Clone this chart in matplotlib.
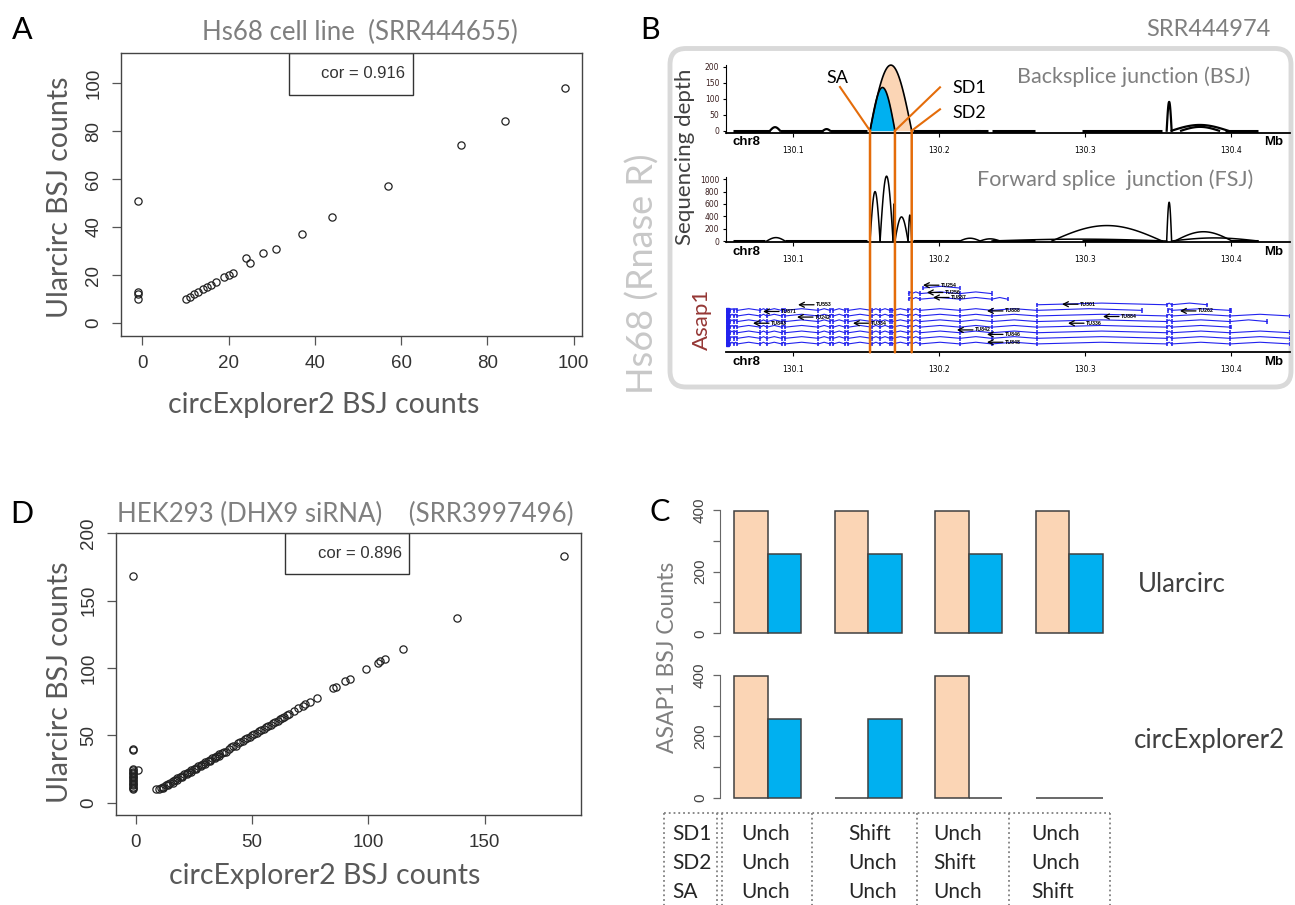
import numpy as np
import matplotlib
matplotlib.use("Agg")
import matplotlib.pyplot as plt
from matplotlib.patches import Rectangle, FancyBboxPatch, ConnectionPatch

# -----------------------------
# 1. Data

# A: Hs68 cell line scatter
a_x = [-1, -1, -1, -1, 10, 11, 12, 13, 14, 15, 16, 17, 19, 20, 21, 24, 25, 28, 31, 37, 44, 57, 74, 84, 98]
a_y = [51, 13, 12, 10, 10, 11, 12, 13, 14, 15, 16, 17, 19, 20, 21, 27, 25, 29, 31, 37, 44, 57, 74, 84, 98]
a_cor = 0.916

# D: HEK293 scatter
d_x = [-1, -1, -1, -1, -1, -1, -1, -1, -1, -1, -1, -1, -1, -1, -1, -1, -1, -1, -1, 1,
       9, 10, 11, 12, 12, 13, 14, 14, 15, 16, 16, 17, 18, 18, 19, 20, 20, 21, 22, 22,
       23, 24, 24, 25, 26, 26, 27, 28, 28, 29, 30, 30, 31, 32, 32, 33, 34, 34, 35, 36,
       36, 37, 38, 39, 40, 41, 42, 43, 44, 45, 46, 47, 48, 49, 50, 51, 52, 53, 54, 55,
       56, 57, 58, 59, 60, 61, 62, 63, 64, 65, 66, 68, 70, 72, 73, 75, 78, 85, 86, 90,
       92, 99, 104, 105, 107, 115, 138, 184]
d_y = [168, 40, 39, 25, 24, 23, 22, 21, 20, 19, 18, 17, 16, 15, 14, 13, 12, 11, 10, 24,
       10, 10, 11, 11, 12, 13, 13, 14, 15, 15, 16, 17, 17, 18, 19, 19, 20, 21, 21, 22,
       23, 23, 24, 25, 25, 26, 27, 27, 28, 29, 29, 30, 31, 31, 32, 33, 33, 34, 35, 35,
       36, 37, 38, 38, 40, 41, 42, 42, 44, 45, 46, 47, 48, 49, 50, 51, 52, 53, 54, 55,
       56, 57, 58, 59, 60, 61, 62, 63, 64, 65, 66, 68, 70, 72, 73, 75, 78, 85, 86, 90,
       92, 99, 104, 105, 107, 114, 137, 183]
d_cor = 0.896

# B: chr8 region (Mb)
mb_lo, mb_hi = 130.0536, 130.4407
mb_ticks = [130.1, 130.2, 130.3, 130.4]
sa_pos, sd1_pos, sd2_pos = 130.1526, 130.1697, 130.1812

# backsplice arcs SA->SD2 and SA->SD1
bsj_start = [sa_pos, sa_pos]
bsj_end = [sd2_pos, sd1_pos]
bsj_height = [205, 135]
# other small BSJ signals
bsj_small_start = [130.0840, 130.1204, 130.3561, 130.3595, 130.3660]
bsj_small_end = [130.0909, 130.1252, 130.3595, 130.3982, 130.3920]
bsj_small_height = [11, 5, 90, 18, 12]
bsj_base_start = [130.0586, 130.0909, 130.1252, 130.1821, 130.2246, 130.2363, 130.2980, 130.3961]
bsj_base_end = [130.0840, 130.1204, 130.1505, 130.2281, 130.2335, 130.2658, 130.3529, 130.4187]

# forward splice arcs
fsj_start = [130.1526, 130.1595, 130.1684, 130.1697, 130.1787, 130.0818, 130.2143, 130.2281,
             130.2774, 130.2363, 130.3561, 130.3618, 130.3595]
fsj_end = [130.1595, 130.1684, 130.1697, 130.1787, 130.1812, 130.0943, 130.2281, 130.2418,
           130.3529, 130.3561, 130.3595, 130.4009, 130.4187]
fsj_height = [800, 1050, 600, 390, 420, 55, 45, 35, 250, 30, 627, 150, 50]
fsj_base_start = [130.0586, 130.0943, 130.1821, 130.2363, 130.2980, 130.3995]
fsj_base_end = [130.0806, 130.1504, 130.2143, 130.2658, 130.3529, 130.4187]

# Asap1 transcripts
tx_start = [130.189, 130.179, 130.179, 130.267, 130.054, 130.357, 130.054, 130.054, 130.054, 130.054, 130.054, 130.054]
tx_end = [130.214, 130.236, 130.247, 130.384, 130.339, 130.400, 130.4407, 130.425, 130.400, 130.4407, 130.4407, 130.4407]
tx_row = [0, 1, 2, 3, 4, 4, 5, 6, 7, 8, 9, 10]
exon_pos = [130.0566, 130.0593, 130.0616, 130.0772, 130.0818, 130.0920, 130.0943, 130.1171,
            130.1252, 130.1274, 130.1355, 130.1377, 130.1538, 130.1595, 130.1663, 130.1679,
            130.1789, 130.1812, 130.1869, 130.2143, 130.2361, 130.2669, 130.3561, 130.3595, 130.3995]
arrow_pos = [130.1889, 130.1916, 130.1958, 130.1032, 130.0792, 130.1025, 130.0723, 130.1409,
             130.2122, 130.2843, 130.2328, 130.3124, 130.2884, 130.3652, 130.2328, 130.2328]
arrow_row = [-0.5, 0.8, 1.7, 3.0, 4.2, 5.2, 6.3, 6.3, 7.5, 2.9, 4.1, 5.1, 6.3, 4.1, 8.3, 9.7]
arrow_label = ["TU254", "TU256", "TU887", "TU553", "TU871", "TU242", "TU843", "TU334",
               "TU842", "TU301", "TU888", "TU884", "TU336", "TU262", "TU846", "TU848"]

# C: ASAP1 BSJ counts per junction scenario
ular_sa_sd2 = [398, 398, 398, 398]
ular_sa_sd1 = [256, 256, 256, 256]
ce2_sa_sd2 = [398, 0, 398, 0]
ce2_sa_sd1 = [256, 256, 0, 0]
row_names = ["SD1", "SD2", "SA"]
scenario_states = [["Unch", "Unch", "Unch"],
                   ["Shift", "Unch", "Unch"],
                   ["Unch", "Shift", "Unch"],
                   ["Unch", "Unch", "Shift"]]

# -----------------------------
# 2. Figure and helpers (pixel layout)
W, H = 1295, 905
fig = plt.figure(figsize=(W / 100, H / 100), dpi=100)
LAB = "Lato"
TCK = "Liberation Sans"
PEACH = "#FBD5B5"
BLUE = "#00B0F0"
ORANGE = "#E46C0A"


def box(x0, y0, x1, y1):
    return [x0 / W, 1 - y1 / H, (x1 - x0) / W, (y1 - y0) / H]


ov = fig.add_axes([0, 0, 1, 1])
ov.set_xlim(0, W)
ov.set_ylim(H, 0)
ov.axis("off")


def T(x, y, s, **kw):
    kw.setdefault("family", LAB)
    ov.text(x, y, s, **kw)


# -----------------------------
# 3. Scatter panels A and D
def scatter_panel(rect, xs, ys, xlim, ylim, xt, yt, cor, cbox):
    ax = fig.add_axes(rect)
    ax.plot(xs, ys, "o", mfc="none", mec="#222222", ms=5.2, mew=0.9, clip_on=False)
    ax.set_xlim(*xlim)
    ax.set_ylim(*ylim)
    ax.set_xticks(xt)
    ax.set_yticks(yt)
    ax.tick_params(length=6.5, width=0.9, color="#555555", labelsize=13.5,
                   labelcolor="#333333", pad=7)
    for lab in ax.get_xticklabels() + ax.get_yticklabels():
        lab.set_family(TCK)
    for lab in ax.get_yticklabels():
        lab.set_rotation(90)
        lab.set_va("center")
    for s in ax.spines.values():
        s.set_color("#444444")
        s.set_linewidth(1.0)
    x0, x1, yb, ytx = cbox
    ax.add_patch(Rectangle((x0, yb), x1 - x0, 1 - yb, transform=ax.transAxes,
                           fc="white", ec="#333333", lw=1.0))
    ax.text(ytx, (1 + yb) / 2, "cor = %.3f" % cor, transform=ax.transAxes,
            ha="right", va="center", fontsize=12, family=TCK, color="#333333")
    return ax


scatter_panel(box(121, 53, 582, 336), a_x, a_y, (-4.96, 101.96), (-5.4, 112.5),
              [0, 20, 40, 60, 80, 100], [0, 20, 40, 60, 80, 100], a_cor,
              (0.3644, 0.6334, 0.8516, 0.616))
scatter_panel(box(116, 533, 581, 815), d_x, d_y, (-8.4, 191.4), (-9.1, 200.2),
              [0, 50, 100, 150], [0, 50, 100, 150, 200], d_cor,
              (0.3634, 0.630, 0.8546, 0.6144))

T(360, 32, "Hs68 cell line  (SRR444655)", fontsize=18.5, color="#7f7f7f", ha="center", va="center")
T(60, 197, "Ularcirc BSJ counts", fontsize=20.5, color="#595959", rotation=90, ha="center", va="center")
T(324, 405, "circExplorer2 BSJ counts", fontsize=20.5, color="#595959", ha="center", va="center")
T(345, 514, "HEK293 (DHX9 siRNA)    (SRR3997496)", fontsize=18.5, color="#7f7f7f", ha="center", va="center")
T(60, 682, "Ularcirc BSJ counts", fontsize=20.5, color="#595959", rotation=90, ha="center", va="center")
T(325, 876, "circExplorer2 BSJ counts", fontsize=20.5, color="#595959", ha="center", va="center")

for lab, x, y in [("A", 22, 30), ("B", 650, 30), ("D", 22, 514), ("C", 660, 512)]:
    T(x, y, lab, fontsize=22, color="black", ha="center", va="center")

# -----------------------------
# 4. Panel B: sashimi-like tracks


def arc(ax, s, e, h, fill=None, lw=1.0):
    t = np.linspace(0, 1, 120)
    xs = s + (e - s) * t
    ys = h * np.sin(np.pi * t)
    if fill is not None:
        ax.fill_between(xs, 0, ys, color=fill, lw=0)
    ax.plot(xs, ys, color="black", lw=lw)


def track_axis(ax):
    ax.set_xlim(mb_lo, mb_hi)
    ax.set_facecolor("none")
    ax.spines["top"].set_visible(False)
    ax.spines["right"].set_visible(False)
    ax.spines["bottom"].set_linewidth(1.3)
    ax.set_xticks(mb_ticks)
    ax.set_xticklabels([str(v) for v in mb_ticks])
    ax.tick_params(axis="x", length=3, width=0.8, labelsize=5.5, pad=6)
    ax.tick_params(axis="y", length=2.5, width=0.8, labelsize=5.5, pad=2,
                   labelcolor="#3b1f1f")


ov.add_patch(FancyBboxPatch((670, 48.5), 621, 338.5,
                            boxstyle="round,pad=0,rounding_size=16",
                            lw=3.5, ec="#d9d9d9", fc="none"))

# track 1: BSJ
ax1 = fig.add_axes(box(725.7, 60, 1290, 133.3))
track_axis(ax1)
ax1.set_ylim(-8.1, 221)
ax1.spines["left"].set_bounds(-8.1, 205)
ax1.set_yticks([0, 50, 100, 150, 200])
ax1.hlines([0] * len(bsj_base_start), bsj_base_start, bsj_base_end, color="black", lw=2.2)
for s, e, h, c in zip(bsj_start, bsj_end, bsj_height, [PEACH, BLUE]):
    arc(ax1, s, e, h, fill=c, lw=1.2)
for s, e, h in zip(bsj_small_start, bsj_small_end, bsj_small_height):
    arc(ax1, s, e, h, lw=1.6)

# SA / SD labels with leader lines
ax1.plot([130.1320, sa_pos], [136.6, 0], color=ORANGE, lw=1.5, clip_on=False)
ax1.plot([130.2006, sd1_pos], [135.6, 0], color=ORANGE, lw=1.5, clip_on=False)
ax1.plot([130.2006, sd2_pos], [66.9, 0], color=ORANGE, lw=1.5, clip_on=False)
ax1.text(130.1305, 166, "SA", fontsize=13, family=LAB, ha="center", va="center")
ax1.text(130.2088, 133, "SD1", fontsize=13, family=LAB, ha="left", va="center")
ax1.text(130.2088, 55, "SD2", fontsize=13, family=LAB, ha="left", va="center")

# track 2: FSJ
ax2 = fig.add_axes(box(725.7, 170, 1290, 242.3))
track_axis(ax2)
ax2.set_ylim(-21, 1150)
ax2.spines["left"].set_bounds(-21, 1030)
ax2.set_yticks([0, 200, 400, 600, 800, 1000])
ax2.hlines([0] * len(fsj_base_start), fsj_base_start, fsj_base_end, color="black", lw=2.2)
for s, e, h in zip(fsj_start, fsj_end, fsj_height):
    arc(ax2, s, e, h, lw=1.1)

# track 3: Asap1 transcripts
ax3 = fig.add_axes(box(725.7, 280, 1290, 352.3))
track_axis(ax3)
ax3.set_ylim(11.5, -1.43)
ax3.spines["left"].set_visible(False)
ax3.set_yticks([])
for s, e, r in zip(tx_start, tx_end, tx_row):
    pts = [s] + [p for p in exon_pos if s < p < e] + [e]
    for a, b in zip(pts[:-1], pts[1:]):
        ax3.plot([a, (a + b) / 2, b], [r, r - 0.3, r], color="#2222ee", lw=0.8)
    ax3.vlines(pts, r - 0.4, r + 0.4, color="#2222ee", lw=1.1)
    if s < 130.06:
        ax3.add_patch(Rectangle((s, r - 0.4), 0.0022, 0.8, color="#2222ee"))
for g, r, lab in zip(arrow_pos, arrow_row, arrow_label):
    ax3.annotate("", xy=(g, r), xytext=(g + 0.011, r),
                 arrowprops=dict(arrowstyle="->", lw=0.9, color="black",
                                 shrinkA=0, shrinkB=0, mutation_scale=9))
    ax3.text(g + 0.0125, r, lab, fontsize=3.8, va="center", family=TCK, weight="bold")

# junction guide lines across the tracks
for g in [sa_pos, sd1_pos, sd2_pos]:
    fig.add_artist(ConnectionPatch(xyA=(g, 0), coordsA=ax1.transData,
                                   xyB=(g, 11.5), coordsB=ax3.transData,
                                   color=ORANGE, lw=1.8))

for y in [142, 252, 362]:
    T(746, y, "chr8", fontsize=9.5, weight="bold", family=TCK, ha="center", va="center")
    T(1274, y, "Mb", fontsize=9.5, weight="bold", family=TCK, ha="center", va="center")

T(1270, 30, "SRR444974", fontsize=17, color="#7f7f7f", ha="right", va="center")
T(1017, 77, "Backsplice junction (BSJ)", fontsize=15.5, color="#7f7f7f", ha="left", va="center")
T(977, 180, "Forward splice  junction (FSJ)", fontsize=15.5, color="#7f7f7f", ha="left", va="center")
T(685, 157, "Sequencing depth", fontsize=16, color="#404040", rotation=90, ha="center", va="center")
T(702, 319, "Asap1", fontsize=16, color="#953735", rotation=90, ha="center", va="center")
T(643, 274, "Hs68 (Rnase R)", fontsize=26, color="#c8c8c8", rotation=90, ha="center", va="center")

# -----------------------------
# 5. Panel C: bar charts plus scenario table
grp = np.arange(len(ular_sa_sd2)) * 3


def bar_panel(rect, peach_vals, blue_vals):
    ax = fig.add_axes(rect)
    ax.set_facecolor("none")
    ax.bar(grp + 1.5, peach_vals, width=1, color=PEACH, edgecolor="#404040", lw=1.1, clip_on=False)
    ax.bar(grp + 2.5, blue_vals, width=1, color=BLUE, edgecolor="#404040", lw=1.1, clip_on=False)
    ax.set_xlim(0.56, 12.44)
    ax.set_ylim(0, 400)
    for s in ["top", "right", "bottom"]:
        ax.spines[s].set_visible(False)
    ax.spines["left"].set_color("#666666")
    ax.set_xticks([])
    ax.set_yticks([0, 100, 200, 300, 400])
    ax.set_yticklabels(["0", "", "200", "", "400"])
    ax.tick_params(axis="y", length=5, width=0.9, color="#666666", labelsize=11,
                   labelcolor="#444444", pad=4)
    for lab in ax.get_yticklabels():
        lab.set_rotation(90)
        lab.set_va("center")
        lab.set_family(TCK)
    return ax


bar_panel(box(719.6, 510, 1117.6, 633.3), ular_sa_sd2, ular_sa_sd1)
bar_panel(box(719.6, 675, 1117.6, 797.7), ce2_sa_sd2, ce2_sa_sd1)

T(668, 657, "ASAP1 BSJ Counts", fontsize=16.5, color="#7f7f7f", rotation=90, ha="center", va="center")
T(1138, 584, "Ularcirc", fontsize=18.5, color="#404040", ha="left", va="center")
T(1134, 740, "circExplorer2", fontsize=18.5, color="#404040", ha="left", va="center")

# dotted scenario table
ov.plot([664, 1110], [813, 813], ls=":", color="#808080", lw=1.3)
for x in [664, 717, 722, 812, 916.5, 1008.5, 1110]:
    ov.plot([x, x], [813, H], ls=":", color="#808080", lw=1.3)
row_y = [834, 863, 892]
for name, y in zip(row_names, row_y):
    T(672, y, name, fontsize=15, color="#262626", ha="left", va="center")
for col_x, states in zip([741, 848, 933.5, 1031], scenario_states):
    for st, y in zip(states, row_y):
        T(col_x, y, st, fontsize=15, color="#262626", ha="left", va="center")

fig.savefig("out.png", dpi=100)
